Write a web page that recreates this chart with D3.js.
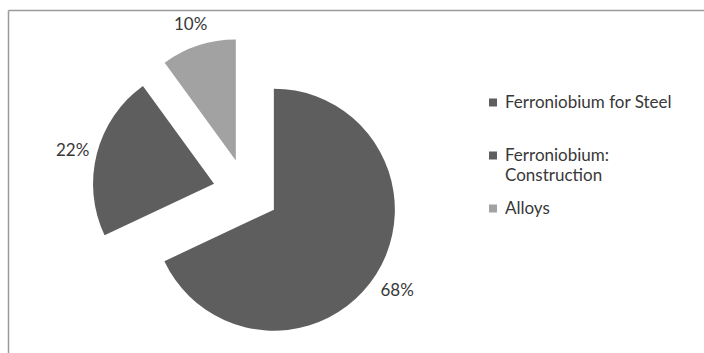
<!DOCTYPE html>
<html>
<head>
<meta charset="utf-8">
<script src="https://cdn.jsdelivr.net/npm/d3@7"></script>
<style>
  html, body { margin: 0; padding: 0; background: #ffffff; }
  svg { display: block; }
  text { font-family: Lato, "Open Sans", sans-serif; fill: #383838; }
</style>
</head>
<body>
<svg id="chart" width="704" height="353"></svg>
<script>
// Niobium end uses, share of total (%)
const categories = ["Ferroniobium for Steel", "Ferroniobium: Construction", "Alloys"];
const legendLines = [["Ferroniobium for Steel"], ["Ferroniobium:", "Construction"], ["Alloys"]];
const values = [68, 22, 10];
const sliceColors = ["#5e5e5e", "#5e5e5e", "#a2a2a2"];

const width = 704, height = 353;
const svg = d3.select("#chart");

// Chart frame (only top and left edges fall inside the view)
svg.append("line").attr("x1", 8.5).attr("y1", 10.5).attr("x2", width).attr("y2", 10.5)
  .attr("stroke", "#9a9a9a").attr("stroke-width", 1.5);
svg.append("line").attr("x1", 8.5).attr("y1", 10.5).attr("x2", 8.5).attr("y2", height)
  .attr("stroke", "#9a9a9a").attr("stroke-width", 1.5);

const cx = 246, cy = 192, radius = 121, explode = 33, labelRadius = 146;

const pie = d3.pie().sort(null).value(d => d.value);
const arcs = pie(categories.map((c, i) => ({ name: c, value: values[i], color: sliceColors[i] })));
const arc = d3.arc().innerRadius(0).outerRadius(radius);

const mid = d => (d.startAngle + d.endAngle) / 2;
const offset = (d, r) => [Math.sin(mid(d)) * r, -Math.cos(mid(d)) * r];

const g = svg.append("g").attr("transform", `translate(${cx},${cy})`);

const slice = g.selectAll("g.slice").data(arcs).join("g")
  .attr("class", "slice")
  .attr("transform", d => { const [x, y] = offset(d, explode); return `translate(${x},${y})`; });

slice.append("path")
  .attr("d", arc)
  .attr("fill", d => d.data.color);

// Percentage labels just outside each slice
slice.append("text")
  .attr("transform", d => { const [x, y] = offset(d, labelRadius); return `translate(${x},${y + 2})`; })
  .attr("text-anchor", "middle")
  .attr("dominant-baseline", "central")
  .attr("font-size", 17)
  .text(d => d.data.value + "%");

// Legend
const legendX = 489, legendTop = 96, legendStep = 53, lineHeight = 20;
const legend = svg.append("g").selectAll("g").data(categories).join("g")
  .attr("transform", (d, i) => `translate(${legendX},${legendTop + i * legendStep})`);

legend.append("rect")
  .attr("x", 0).attr("y", 2.5).attr("width", 8).attr("height", 8)
  .attr("fill", (d, i) => sliceColors[i]);

legend.append("text")
  .attr("x", 16)
  .attr("font-size", 17)
  .selectAll("tspan").data((d, i) => legendLines[i]).join("tspan")
  .attr("x", 16)
  .attr("y", (d, j) => 12 + j * lineHeight)
  .text(d => d);
</script>
</body>
</html>
